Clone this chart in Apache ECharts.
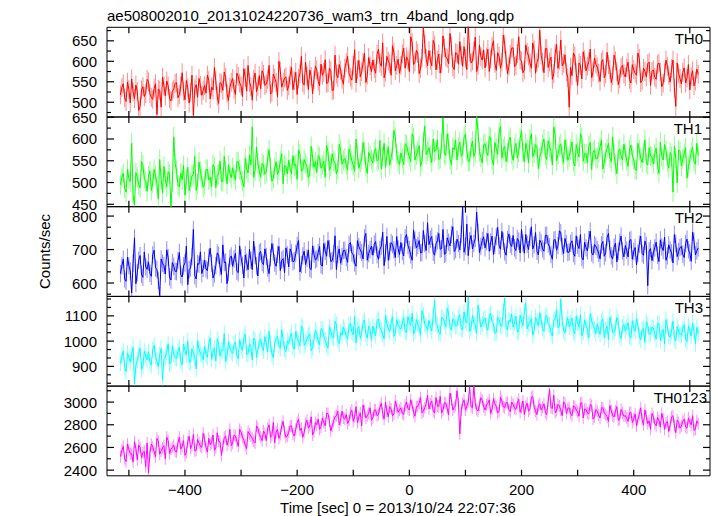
<!DOCTYPE html>
<html><head><meta charset="utf-8">
<script src="https://cdn.jsdelivr.net/npm/echarts@6/dist/echarts.min.js"></script>
<style>html,body{margin:0;padding:0;background:#fff}#c{width:717px;height:516px}</style>
</head><body><div id="c"></div>
<script>
// two interleaved sample sets per band: main bins at tStart + k*tStep, half bins offset by tStep/2
const tStart = -515, tStep = 5;
const th0 = [518,545,502,531,557,509,526,490,538,521, 550,512,534,470,529,561,515,540,503,532, 548,519,572,506,535,524,468,543,558,517, 541,566,508,530,552,497,545,574,522,536, 558,519,563,540,582,527,549,505,571,538, 533,568,545,590,524,559,513,576,549,562, 540,586,552,519,570,547,598,531,563,555, 579,540,566,604,548,577,530,569,592,556, 583,612,561,590,547,602,575,620,566,589, 603,571,629,588,560,612,594,638,577,605, 590,632,611,575,646,598,620,583,684,607, 626,589,640,603,571,662,610,594,637,580, 619,648,588,607,690,596,625,575,640,603, 584,629,605,650,578,612,598,642,569,617, 633,590,660,601,579,622,596,645,571,608, 615,572,631,598,556,620,583,652,595,574, 488,565,613,541,590,623,577,599,560,608, 586,551,604,569,592,548,615,575,557,590, 562,598,547,580,566,607,553,575,594,541, 579,556,596,538,572,588,549,603,490,570, 545,584,559,530,577,552,568];
const th0Half = [536,511,549,498,525,542,480,530,514,556, 521,507,545,532,488,540,552,509,527,546, 511,539,527,553,498,566,533,512,541,529, 522,553,537,585,515,548,529,561,504,549, 532,571,547,514,560,590,538,556,526,565, 577,541,556,520,569,548,600,537,559,529, 566,531,573,558,612,542,564,579,521,588, 551,593,573,546,583,528,615,560,578,544, 597,570,554,628,580,562,596,548,609,575, 582,617,596,645,574,600,566,622,590,571, 618,583,603,660,592,627,570,608,641,589, 603,651,579,618,595,633,607,668,586,621, 593,614,636,580,622,601,659,590,611,628, 610,575,637,595,621,583,664,603,588,632, 587,619,604,572,640,613,583,628,597,676, 598,631,585,610,570,641,602,589,616,560, 585,620,572,596,557,604,588,630,574,593, 571,598,560,622,580,565,601,543,585,569, 584,556,592,571,620,548,583,562,598,575, 561,592,574,547,603,566,582,535,596,558, 573,547,592,563,540,581];
const th1 = [495,521,478,509,590,448,512,488,540,503, 515,482,530,498,553,476,507,525,445,605, 528,490,506,471,535,500,518,482,547,509, 496,530,512,541,488,519,503,560,497,522, 534,505,548,516,490,531,562,628,527,545, 512,540,524,575,503,533,518,549,497,536, 551,520,538,507,566,529,544,512,583,535, 523,558,540,512,571,537,550,520,588,542, 556,528,565,540,600,533,552,570,521,560, 545,578,553,531,590,562,540,575,604,549, 568,541,586,559,612,552,573,537,595,564, 580,546,571,598,555,648,562,589,541,575, 552,593,566,611,548,580,560,655,571,545, 589,562,603,540,578,615,556,583,568,604, 551,590,570,618,547,576,598,559,587,532, 571,600,553,582,540,609,565,589,546,577, 560,593,538,571,612,549,566,585,530,574, 555,582,531,567,590,548,563,520,577,552, 568,537,586,553,529,574,546,598,540,561, 543,579,521,560,587,548,569,478,556,575, 538,567,510,553,581,542,562];
const th1Half = [512,487,530,502,471,523,495,548,509,480, 527,499,516,462,508,537,490,519,501,543, 494,521,539,508,482,515,560,497,526,489, 530,506,491,535,517,549,502,526,540,511, 519,547,530,503,556,522,541,512,582,526, 544,519,557,535,510,548,529,566,540,520, 531,562,542,575,526,553,536,519,557,548, 562,533,549,585,528,566,545,530,574,551, 540,577,550,526,563,546,592,537,569,553, 571,549,597,560,535,582,557,620,566,541, 555,589,570,548,603,563,585,549,630,572, 562,600,575,553,589,566,612,554,580,597, 581,560,604,573,549,595,569,615,558,587, 571,606,552,592,565,629,576,548,596,566, 579,556,601,571,590,545,612,568,582,557, 588,562,596,571,627,550,583,563,598,551, 576,548,587,559,603,566,545,592,570,555, 569,598,545,578,556,605,540,573,561,588, 551,575,562,530,590,556,568,545,580,559, 566,540,593,552,574,533,560,583,499,571, 554,580,536,569,548,590];
const th2 = [628,671,605,652,570,735,631,682,617,648, 663,620,698,641,562,659,627,676,609,650, 634,691,618,660,595,645,760,612,656,628, 668,637,704,615,652,683,626,661,598,674, 650,689,631,676,615,662,701,640,683,621, 694,655,679,628,718,660,686,637,673,705, 648,690,667,712,633,681,655,699,640,686, 672,709,651,695,727,664,688,640,702,679, 698,662,721,684,650,709,691,735,668,700, 683,724,671,710,652,739,694,715,676,702, 721,681,745,700,668,728,712,690,757,697, 715,739,683,726,701,760,688,722,745,694, 731,699,830,710,682,742,718,812,691,727, 705,748,722,685,739,711,754,693,730,716, 742,697,725,760,689,716,737,702,751,684, 720,695,743,708,671,730,712,750,688,717, 693,726,680,713,745,669,705,730,690,715, 700,672,724,690,748,681,707,663,721,696, 712,678,730,694,654,716,688,725,592,703, 690,722,664,708,737,681,699,660,718,694, 709,676,731,690,752,684,705];
const th2Half = [651,612,677,636,659,598,668,626,693,641, 629,684,645,608,672,652,699,618,661,635, 667,625,651,710,640,679,622,658,693,644, 642,676,659,627,690,648,714,663,632,681, 672,635,711,653,684,640,668,725,651,690, 661,702,645,676,692,650,709,668,631,684, 702,663,688,727,655,695,674,644,711,669, 691,654,718,680,702,667,741,685,659,697, 676,715,690,660,727,699,672,748,688,710, 716,684,700,752,690,668,721,699,739,685, 694,735,712,684,759,705,727,691,718,780, 731,692,717,748,703,686,735,711,768,700, 718,745,692,776,726,702,733,751,709,738, 724,695,740,713,766,701,725,683,747,709, 705,733,690,719,745,700,768,714,695,728, 702,742,717,685,728,698,756,709,733,691, 718,688,741,703,676,722,696,755,684,710, 689,714,680,736,701,672,719,695,740,678, 698,727,671,706,689,740,683,712,696,667, 705,683,729,697,668,714,690,745,679,706, 686,718,699,665,725,696];
const th3 = [912,961,880,935,950,830,925,972,901,940, 958,905,983,921,946,845,937,990,915,948, 932,975,906,962,1001,918,953,890,969,944, 980,936,1012,955,921,987,964,1030,942,970, 951,996,930,978,1015,948,989,925,1003,967, 1009,962,994,1040,950,988,1018,971,1002,958, 990,1032,968,1011,981,1053,994,1021,962,1006, 1027,985,1045,1004,972,1038,1012,1066,990,1023, 1041,1008,1070,1025,993,1058,1031,1084,1012,1047, 1060,1021,1088,1043,1009,1071,1039,1097,1030,1062, 1048,1093,1035,1074,1110,1040,1068,1026,1101,1057, 1082,1040,1160,1063,1027,1090,1055,1112,1044,1079, 1061,1105,1046,1083,1175,1050,1074,1030,1098,1067, 1092,1043,1110,1069,1035,1087,1058,1170,1047,1076, 1055,1099,1038,1081,1116,1049,1072,1024,1094,1060, 1083,1039,1102,1064,1020,1087,1053,1165,1042,1070, 1056,1091,1028,1073,1105,1037,1062,1013,1080,1049, 1068,1027,1088,1045,1005,1071,1036,1094,1022,1057, 1040,1073,1012,1051,1089,1020,1046,995,1064,1031, 1052,1008,1070,1029,989,1058,1017,1079,1001,1036, 1024,1065,998,1041,1072,990,1030];
const th3Half = [939,896,952,918,975,903,947,888,960,926, 917,966,940,898,971,929,956,910,982,934, 960,921,988,945,915,970,937,1002,951,926, 947,991,928,973,1008,941,962,920,997,958, 987,942,1006,963,1028,950,978,1012,936,999, 976,1018,957,990,935,1011,981,1046,968,1001, 1015,978,1039,996,1060,983,1008,1029,975,1043, 1001,1049,1020,986,1057,1016,1078,1003,1034,1055, 1019,1062,1036,1098,1045,1010,1074,1028,1059,1004, 1039,1082,1052,1026,1101,1048,1070,1019,1085,1054, 1072,1036,1097,1061,1028,1085,1052,1120,1067,1043, 1058,1101,1069,1034,1093,1076,1130,1052,1088,1061, 1093,1048,1116,1072,1039,1101,1064,1142,1055,1086, 1059,1100,1075,1031,1094,1062,1118,1049,1083,1108, 1074,1037,1103,1061,1150,1068,1090,1042,1079,1112, 1050,1096,1067,1034,1085,1125,1060,1078,1031,1093, 1071,1038,1099,1055,1021,1084,1046,1108,1063,1030, 1045,1079,1014,1060,1096,1033,1052,1075,1010,1066, 1057,1020,1081,1038,1062,1005,1049,1077,1026,1055, 1031,1067,1003,1046,1085,1019,1040,1012,1058,1025, 1047,1006,1060,1021,1038,1054];
const th0123 = [2520,2610,2475,2580,2545,2650,2490,2600,2555,2430, 2375,2630,2565,2680,2540,2595,2500,2660,2585,2620, 2560,2690,2610,2530,2650,2590,2715,2575,2640,2600, 2670,2560,2625,2710,2595,2655,2530,2690,2620,2760, 2640,2700,2610,2735,2665,2590,2720,2680,2640,2770, 2690,2745,2660,2800,2705,2640,2760,2715,2830,2690, 2735,2790,2700,2820,2750,2690,2810,2770,2870,2740, 2800,2760,2860,2790,2900,2745,2830,2880,2800,2920, 2850,2810,2905,2830,2960,2870,2790,2920,2880,2950, 2860,2930,2890,2990,2850,2920,2960,2880,3010,2910, 2950,2890,3000,2930,2970,2875,2960,3040,2920,2985, 2940,3010,2905,2965,3050,2930,2990,2890,3020,2955, 3100,2720,2990,2930,3000,2960,3140,2935,2975,3015, 2930,2990,2900,3030,2960,2920,3010,2950,2995,2915, 2980,2935,3025,2950,2890,2990,2940,3050,2920,2970, 2930,2985,2890,3110,2945,2905,2980,2930,3000,2900, 2950,2880,2960,2915,2990,2860,2935,2895,2970,2870, 2920,2860,2950,2890,2830,2925,2870,2960,2850,2905, 2880,2830,2910,2850,2790,2890,2845,2930,2810,2760, 2870,2790,2840,2900,2760,2830,2800,2880,2730,2820, 2790,2850,2770,2825,2880,2760,2810];
const th0123Half = [2575,2500,2630,2545,2470,2590,2620,2510,2565,2640, 2550,2605,2520,2655,2570,2615,2690,2545,2600,2565, 2640,2585,2660,2555,2700,2620,2570,2670,2610,2725, 2600,2680,2640,2575,2730,2650,2610,2700,2660,2615, 2710,2655,2760,2690,2620,2740,2700,2655,2790,2715, 2660,2725,2770,2690,2820,2735,2680,2790,2740,2700, 2790,2720,2760,2850,2770,2730,2840,2790,2710,2820, 2850,2780,2820,2900,2830,2790,2870,2920,2840,2860, 2890,2840,2930,2870,2820,2905,2975,2860,2900,2840, 2930,2880,2955,2900,3000,2870,2940,2895,2960,2930, 2900,2975,2945,3020,2910,2960,2990,2905,2950,3060, 2985,2920,3040,2960,2905,2995,2945,3080,2930,2970, 2990,2930,3020,2965,3130,2950,2990,2920,3040,2960, 2975,3020,2940,2985,2905,3045,2960,2995,2930,3000, 2945,2990,2910,3010,2960,2920,3040,2955,2890,2985, 2955,2910,3010,2950,3060,2925,2965,2880,2990,2945, 2900,2965,2930,2875,2995,2940,2905,2980,2850,2935, 2885,2950,2905,2870,2970,2880,2920,2840,2935,2875, 2860,2905,2820,2895,2850,2950,2800,2870,2835,2900, 2810,2865,2780,2850,2815,2740,2870,2795,2840,2770, 2830,2780,2860,2800,2750,2835];
// typical 1-sigma error bar of each band (counts/sec)
const errBars = [23, 23, 26, 32, 53];
const panelNames = ['TH0','TH1','TH2','TH3','TH0123'];
const xTickLabels = [-400,-200,0,200,400];
const titleText = 'ae508002010_20131024220736_wam3_trn_4band_long.qdp';
const xTitle = 'Time [sec] 0 = 2013/10/24 22:07:36';
const yTitle = 'Counts/sec';

const mainSets = [th0, th1, th2, th3, th0123];
const halfSets = [th0Half, th1Half, th2Half, th3Half, th0123Half];
const colors = ['#ff0000','#00ff00','#0000ff','#00ffff','#ff00ff'];
const yCfg = [
  {min:464, max:683, major:50, minor:25},
  {min:444.5, max:650.5, major:50, minor:25},
  {min:560, max:828, major:100, minor:100/3},
  {min:822, max:1177, major:100, minor:100/3},
  {min:2350, max:3141, major:200, minor:100}
];
const xMinor = 100;
const labelRight = [703, 702, 703, 703, 707];
const xMin = -539, xMax = 536;
const FONT = '"Liberation Sans", Arial, Helvetica, sans-serif';
const gridTop = 27.3, gridH = 89.7, gridLeft = 107, gridW = 603;
const TICK_MAJOR = 7, TICK_MINOR = 4, TICK_X = 6;

function isMult(v, m){ const q = v / m; return Math.abs(q - Math.round(q)) < 1e-6; }
const fmtNum = v => (v < 0 ? '\u2212' + (-v) : String(v));
const noLine = {show:false, onZero:false};

// tick values along the time axis (inward tick marks are drawn through the axis scales)
const xTickVals = [];
for (let k = Math.ceil(xMin / xMinor); k * xMinor < xMax; k++) xTickVals.push(k * xMinor);

const grids = [], xAxes = [], yAxes = [], series = [], graphics = [];
for (let i = 0; i < 5; i++) {
  const top = gridTop + i*gridH;
  const c = yCfg[i];
  grids.push({left:gridLeft, top:top, width:gridW, height:gridH, show:true,
    borderColor:'#000', borderWidth:1, backgroundColor:'transparent', containLabel:false});
  xAxes.push({type:'value', gridIndex:i, position:'bottom', min:xMin, max:xMax,
    splitNumber:10, minInterval:100, maxInterval:100,
    axisLine:noLine, splitLine:{show:false}, axisTick:{show:false},
    axisLabel:{show: i===4, margin:6, fontSize:15, fontFamily:FONT, color:'#000',
      formatter: v => (xTickLabels.some(t => Math.abs(t - v) < 1e-6) ? fmtNum(Math.round(v)) : '')}});
  yAxes.push({type:'value', gridIndex:i, position:'left', min:c.min, max:c.max,
    splitNumber:4, minInterval:c.major, maxInterval:c.major,
    axisLine:noLine, splitLine:{show:false}, axisTick:{show:false},
    axisLabel:{show:true, margin:10, fontSize:15, fontFamily:FONT, color:'#000',
      formatter: v => (isMult(v, c.major) ? String(Math.round(v)) : '')}});

  const main = mainSets[i], half = halfSets[i];
  const pts = [];
  main.forEach((v, k) => {
    pts.push([tStart + k*tStep, v]);
    if (k < half.length) pts.push([tStart + k*tStep + tStep/2, half[k]]);
  });
  const e = errBars[i];
  const col = colors[i];
  series.push({type:'custom', xAxisIndex:i, yAxisIndex:i, animation:false, silent:true, clip:true, z:1,
    encode:{x:0, y:[1,2]},
    data: pts.map(p => [p[0], p[1] - e, p[1] + e]),
    renderItem: (params, api) => {
      const p1 = api.coord([api.value(0), api.value(1)]);
      const p2 = api.coord([api.value(0), api.value(2)]);
      return {type:'line', shape:{x1:p1[0], y1:p1[1], x2:p2[0], y2:p2[1]},
        style:{stroke: col, lineWidth: 1, opacity: 0.45}};
    }
  });
  series.push({type:'line', xAxisIndex:i, yAxisIndex:i, showSymbol:false, symbol:'none', z:2,
    animation:false, silent:true, clip:true, sampling:null,
    lineStyle:{color: col, width:1}, itemStyle:{color: col},
    data: pts});

  // y ticks on both vertical edges (major longer than minor)
  const yTickData = [];
  for (let k = Math.ceil(c.min / c.minor - 1e-9); k * c.minor < c.max - 1e-9; k++) {
    const v = k * c.minor;
    if (v <= c.min + 1e-9) continue;
    yTickData.push([xMin, v, isMult(v, c.major) ? 1 : 0]);
  }
  series.push({type:'custom', xAxisIndex:i, yAxisIndex:i, animation:false, silent:true, clip:false, z:5,
    encode:{x:0, y:1}, data: yTickData,
    renderItem: (params, api) => {
      const v = api.value(1);
      const L = api.value(2) ? TICK_MAJOR : TICK_MINOR;
      const pl = api.coord([xMin, v]), pr = api.coord([xMax, v]);
      return {type:'group', children:[
        {type:'line', shape:{x1:pl[0], y1:pl[1], x2:pl[0] + L, y2:pl[1]}, style:{stroke:'#000', lineWidth:1.2}},
        {type:'line', shape:{x1:pr[0], y1:pr[1], x2:pr[0] - L, y2:pr[1]}, style:{stroke:'#000', lineWidth:1.2}}
      ]};
    }
  });
  // x ticks on both horizontal edges
  series.push({type:'custom', xAxisIndex:i, yAxisIndex:i, animation:false, silent:true, clip:false, z:5,
    encode:{x:0, y:1}, data: xTickVals.map(t => [t, c.min]),
    renderItem: (params, api) => {
      const t = api.value(0);
      const pb = api.coord([t, c.min]), pt = api.coord([t, c.max]);
      return {type:'group', children:[
        {type:'line', shape:{x1:pb[0], y1:pb[1], x2:pb[0], y2:pb[1] - TICK_X}, style:{stroke:'#000', lineWidth:1.2}},
        {type:'line', shape:{x1:pt[0], y1:pt[1], x2:pt[0], y2:pt[1] + TICK_X}, style:{stroke:'#000', lineWidth:1.2}}
      ]};
    }
  });
  graphics.push({type:'text', x: labelRight[i], y: top + 11, silent:true,
    style:{text: panelNames[i], fill:'#000', font: '15px ' + FONT, textAlign:'right', textVerticalAlign:'middle'}});
}
graphics.push({type:'text', x: 107, y: 15, silent:true,
  style:{text: titleText, fill:'#000', font:'15px ' + FONT, textAlign:'left', textVerticalAlign:'middle'}});
graphics.push({type:'text', x: 398, y: 507, silent:true,
  style:{text: xTitle, fill:'#000', font:'15px ' + FONT, textAlign:'center', textVerticalAlign:'middle'}});
graphics.push({type:'text', x: 44, y: 251.5, rotation: Math.PI/2, silent:true,
  style:{text: yTitle, fill:'#000', font:'15px ' + FONT, textAlign:'center', textVerticalAlign:'middle'}});

const chart = echarts.init(document.getElementById('c'), null, {renderer:'svg'});
chart.setOption({animation:false, backgroundColor:'#fff', grid:grids, xAxis:xAxes, yAxis:yAxes, series:series, graphic:graphics});
</script></body></html>
